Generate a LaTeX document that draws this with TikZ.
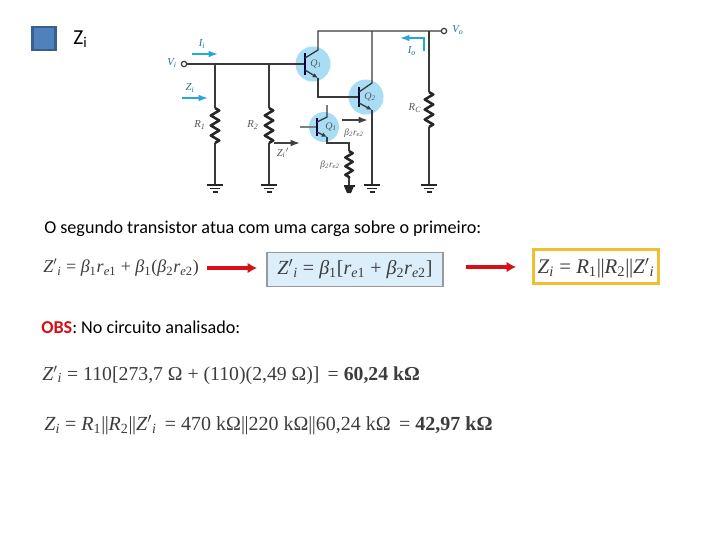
\documentclass[tikz,border=0pt]{standalone}
\usepackage{fontspec}
\usepackage{graphicx}
\setmainfont{Liberation Serif}
\newfontfamily\calib{Carlito}
\usetikzlibrary{arrows.meta,decorations.pathmorphing,calc}
\definecolor{wirec}{HTML}{3A3A3A}
\definecolor{halo}{HTML}{A9DDF5}
\definecolor{cyanarrow}{HTML}{27A6D8}
\definecolor{lbl}{HTML}{555555}
\definecolor{eqc}{HTML}{3C3C3C}
\definecolor{sqfill}{HTML}{4F81BD}
\definecolor{sqline}{HTML}{3A5F8F}
\definecolor{boxfill}{HTML}{DCEEFA}
\definecolor{ybox}{HTML}{F0BE32}
\definecolor{redc}{HTML}{D81015}
\newcommand{\dn}[1]{\textsubscript{#1}}
\newcommand{\pl}{|\kern-0.4pt|}
\tikzset{
  x=0.75pt,y=-0.75pt,
  wire/.style={draw=wirec,line width=1pt},
  thickbar/.style={draw=black!80!blue,line width=2.2pt},
  res/.style={draw=black!85,line width=1.9pt,line join=round,decorate,decoration={zigzag,segment length=7.5pt,amplitude=3.2pt}},
  gnd/.style={draw=black!85,line width=1.3pt},
  halofill/.style={fill=halo,draw=none},
  cyarrow/.style={draw=cyanarrow,line width=1.2pt,-{Latex[length=7pt,width=5pt]}},
  blkarrow/.style={draw=black!75,line width=1.2pt,-{Latex[length=7pt,width=5pt]}},
  redarrow/.style={draw=redc,line width=2.4pt,-{Latex[length=7pt,width=8pt]}},
  term/.style={circle,draw=wirec,fill=white,line width=0.9pt,inner sep=0pt,minimum size=4pt},
  lab/.style={text=lbl,font=\fontsize{8}{9}\selectfont\itshape,inner sep=0pt},
  cyl/.style={text=cyanarrow!70!black,font=\fontsize{8}{9}\selectfont\itshape,inner sep=0pt},
  eq/.style={text=eqc,inner sep=0pt,anchor=west},
  body/.style={text=black,font=\calib\fontsize{13.6}{15}\selectfont,inner sep=0pt,anchor=west},
  emit/.style={draw=wirec,line width=1pt,-{Latex[length=4pt,width=3.5pt]}}
}
\newcommand{\groundat}[1]{%
  \draw[gnd,line width=1.6pt] ($(#1)+(-8,0)$) -- ($(#1)+(8,0)$);
  \draw[gnd] ($(#1)+(-5,3.5)$) -- ($(#1)+(5,3.5)$);
  \draw[gnd] ($(#1)+(-2.5,7)$) -- ($(#1)+(2.5,7)$);}
\begin{document}
\begin{tikzpicture}
\useasboundingbox (0,0) rectangle (720,540);
\fill[white] (0,0) rectangle (720,540);
% heading
\node[draw=sqline,line width=1.8pt,fill=sqfill,minimum width=17.5pt,minimum height=17.5pt,inner sep=0pt] (sq) at (44,38.5) {};
\node[body,font=\calib\fontsize{16}{18}\selectfont] (zi) at (73,39) {Z\dn{i}};
% halos
\fill[halofill] (313,64) circle (17.5) (366,97) circle (17.5) (324,127) circle (15);
% coordinates
\coordinate (vi) at (184,64);
\coordinate (b1) at (305,64);
\coordinate (j1) at (215,64);
\coordinate (j2) at (269,64);
\coordinate (r1t) at (215,108);
\coordinate (r1b) at (215,143);
\coordinate (g1) at (215,185);
\coordinate (r2t) at (269,108);
\coordinate (r2b) at (269,143);
\coordinate (g2) at (269,185);
\coordinate (c1) at (318,50);
\coordinate (t1) at (318,31);
\coordinate (e1) at (318,78);
\coordinate (e1d) at (318,97);
\coordinate (b2) at (359,97);
\coordinate (c2) at (372,83);
\coordinate (t2) at (372,31);
\coordinate (e2) at (372,110);
\coordinate (g3) at (372,185);
\coordinate (t3) at (429,31);
\coordinate (rct) at (429,92);
\coordinate (rcb) at (429,127);
\coordinate (g4) at (429,185);
\coordinate (vo) at (444,31);
\coordinate (b3i) at (300,127);
\coordinate (b3) at (317,127);
\coordinate (c3) at (327,117);
\coordinate (c3t) at (327,105);
\coordinate (e3) at (327,137);
\coordinate (e3d) at (327,143);
\coordinate (r3c) at (349,143);
\coordinate (r3t) at (349,151);
\coordinate (r3b) at (349,178);
\coordinate (g5) at (349,186);
% wires
\draw[wire] (vi) -- (b1);
\draw[wire] (j1) -- (r1t) (r1b) -- (g1);
\draw[wire] (j2) -- (r2t) (r2b) -- (g2);
\draw[res] (r1t) -- (r1b);
\draw[res] (r2t) -- (r2b);
\draw[thickbar] (305,53) -- (305,75);
\draw[wire] (305,58) -- (c1) -- (t1) -- (vo);
\draw[emit] (305,70) -- (e1);
\draw[wire] (e1) -- (e1d) -- (b2);
\draw[thickbar] (359,87) -- (359,107);
\draw[wire] (359,92) -- (c2) -- (t2);
\draw[emit] (359,103) -- (e2);
\draw[wire] (e2) -- (g3);
\draw[wire] (t3) -- (rct) (rcb) -- (g4);
\draw[res] (rct) -- (rcb);
\draw[draw=gray,line width=0.8pt] (b3i) -- (b3);
\draw[thickbar] (317,118) -- (317,136);
\draw[wire] (317,122) -- (c3) -- (c3t);
\draw[emit] (317,132) -- (e3);
\draw[wire] (e3) -- (e3d) -- (r3c) -- (r3t) (r3b) -- (g5);
\draw[res,decoration={zigzag,segment length=6.5pt,amplitude=2.8pt}] (r3t) -- (r3b);
% grounds
\groundat{g1}\groundat{g2}\groundat{g3}\groundat{g4}
\draw[gnd,line width=1.8pt] ($(g5)+(-5.5,0)$) -- ($(g5)+(5.5,0)$);
\fill[black!85] ($(g5)+(-5,0)$) -- ($(g5)+(5,0)$) -- ($(g5)+(2,7)$) -- ($(g5)+(-2,7)$) -- cycle;
\node[term] (vin) at (vi) {};
\node[term] (von) at (vo) {};
% arrows
\coordinate (ia) at (192,54); \coordinate (ib) at (218,54);
\draw[cyarrow] (ia) -- (ib);
\coordinate (za) at (182,98); \coordinate (zb) at (208,98);
\draw[cyarrow] (za) -- (zb);
\coordinate (ioa) at (424,51); \coordinate (iob) at (424,38); \coordinate (ioc) at (400,38);
\draw[cyarrow] (ioa) -- (iob) -- (ioc);
\coordinate (zpa) at (274,143); \coordinate (zpb) at (300,143);
\draw[blkarrow] (zpa) -- (zpb);
\coordinate (bpa) at (342,120); \coordinate (bpb) at (368,120);
\draw[blkarrow] (bpa) -- (bpb);
% labels
\node[cyl] (lvi) at (172,63) {V\dn{i}};
\node[cyl] (lii) at (202,44) {I\dn{i}};
\node[cyl] (lzi) at (190,88) {Z\dn{i}};
\node[cyl] (lvo) at (458,30) {V\dn{o}};
\node[cyl] (lio) at (412,51) {I\dn{o}};
\node[lab] (lr1) at (200,125) {R\dn{1}};
\node[lab] (lr2) at (253,125) {R\dn{2}};
\node[lab] (lrc) at (415,108) {R\dn{C}};
\node[lab] (lzp) at (283,153) {Z\dn{i}$'$};
\node[lab,font=\fontsize{7.5}{9}\selectfont\itshape] (lq1) at (316,64) {Q\dn{1}};
\node[lab,font=\fontsize{7.5}{9}\selectfont\itshape] (lq2) at (370,97) {Q\dn{2}};
\node[lab,font=\fontsize{7.5}{9}\selectfont\itshape] (lq3) at (331,127) {Q\dn{1}};
\node[lab,font=\fontsize{7}{9}\selectfont\itshape] (lb1) at (354,133) {β\dn{2}r\dn{e2}};
\node[lab,font=\fontsize{7}{9}\selectfont\itshape] (lb2) at (330,165) {β\dn{2}r\dn{e2}};
% texts
\node[body] (t1n) at (44,228.5) {O segundo transistor atua com uma carga sobre o primeiro:};
\node[body] (t2n) at (41,327) {\textcolor{redc}{\textbf{OBS}}: No circuito analisado:};
% equations
\node[eq,font=\fontsize{13.5}{15}\selectfont] (eq1) at (43,268) {\textit{Z}$'$\dn{\textit{i}} = \textit{β}\dn{1}\textit{r}\dn{\textit{e}1} + \textit{β}\dn{1}(\textit{β}\dn{2}\textit{r}\dn{\textit{e}2})};
\node[draw=gray!80,line width=0.8pt,fill=boxfill,minimum width=132pt,minimum height=25pt,inner sep=0pt] (bx) at (355,269.5) {};
\node[eq,anchor=center,font=\fontsize{15}{17}\selectfont] (eq2) at (355,269.5) {\textit{Z}$'$\dn{\textit{i}} = \textit{β}\dn{1}[\textit{r}\dn{\textit{e}1} + \textit{β}\dn{2}\textit{r}\dn{\textit{e}2}]};
\coordinate (ra0) at (207,268); \coordinate (rb0) at (257,268);
\draw[redarrow] (ra0) -- (rb0);
\node[draw=ybox,line width=2.2pt,fill=white,minimum width=94pt,minimum height=26pt,inner sep=0pt] (by) at (596,266.5) {};
\node[eq,anchor=center,font=\fontsize{15.6}{17}\selectfont] (eq3) at (596,268.5) {\textit{Z}\dn{\textit{i}} = \textit{R}\dn{1}\pl\textit{R}\dn{2}\pl\textit{Z}$'$\dn{\textit{i}}};
\coordinate (ra) at (466,267); \coordinate (rb) at (516,267);
\draw[redarrow] (ra) -- (rb);
\node[eq,font=\fontsize{14.8}{17}\selectfont] (eq4) at (42,375) {\textit{Z}$'$\dn{\textit{i}} = 110[273,7 Ω + (110)(2,49 Ω)] \,= \textbf{60,24 kΩ}};
\node[eq,font=\fontsize{15}{17}\selectfont] (eq5) at (44,425) {\textit{Z}\dn{\textit{i}} = \textit{R}\dn{1}\pl\textit{R}\dn{2}\pl\textit{Z}$'$\dn{\textit{i}} \,= 470 kΩ\pl 220 kΩ\pl 60,24 kΩ \,= \textbf{42,97 kΩ}};
\end{tikzpicture}
\end{document}
